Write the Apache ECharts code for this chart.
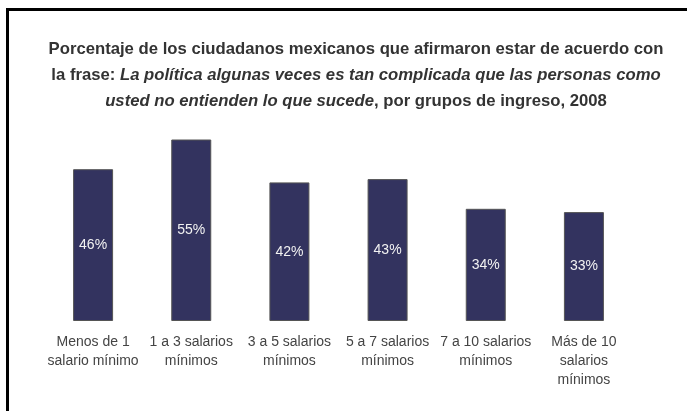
<!DOCTYPE html>
<html>
<head>
<meta charset="utf-8">
<script src="https://cdn.jsdelivr.net/npm/echarts@6/dist/echarts.min.js"></script>
<style>
html, body { margin: 0; padding: 0; background: #fff; }
#chart { width: 687px; height: 411px; }
</style>
</head>
<body>
<div id="chart"></div>
<script>
// grupos de ingreso
var categorias = [
    'Menos de 1\nsalario mínimo',
    '1 a 3 salarios\nmínimos',
    '3 a 5 salarios\nmínimos',
    '5 a 7 salarios\nmínimos',
    '7 a 10 salarios\nmínimos',
    'Más de 10\nsalarios\nmínimos'
]
// porcentaje de acuerdo
var valores = [46, 55, 42, 43, 34, 33]

var chart = echarts.init(document.getElementById('chart'), null, {renderer: 'canvas'})

var titulo = '{b|Porcentaje de los ciudadanos mexicanos que afirmaron estar de acuerdo con}\n' +
    '{b|la frase: }{bi|La política algunas veces es tan complicada que las personas como}\n' +
    '{bi|usted no entienden lo que sucede}{b|, por grupos de ingreso, 2008}'

var fuente = 'Liberation Sans, Arial, sans-serif'

var option = {
    backgroundColor: '#fff',
    animation: false,
    title: {
        text: titulo,
        left: 351,
        top: 31,
        textAlign: 'center',
        textStyle: {
            rich: {
                b: {fontFamily: fuente, fontSize: 16.7, fontWeight: 'bold', color: '#333', lineHeight: 26},
                bi: {fontFamily: fuente, fontSize: 16.7, fontWeight: 'bold', fontStyle: 'italic', color: '#333', lineHeight: 26}
            }
        }
    },
    grid: {
        left: 44,
        right: 54,
        top: 123,
        bottom: 90,
        containLabel: false
    },
    xAxis: {
        type: 'category',
        data: categorias,
        axisLine: {show: false},
        axisTick: {show: false},
        axisLabel: {
            interval: 0,
            margin: 12,
            fontFamily: fuente,
            fontSize: 14,
            lineHeight: 19,
            color: '#444'
        }
    },
    yAxis: {
        type: 'value',
        min: 0,
        max: 60,
        show: false,
        splitLine: {show: false}
    },
    series: [
        {
            type: 'bar',
            data: valores,
            barWidth: 40,
            itemStyle: {
                color: '#33335f',
                borderColor: '#555',
                borderWidth: 1
            },
            label: {
                show: true,
                position: 'inside',
                formatter: '{c}%',
                fontFamily: fuente,
                fontSize: 14,
                color: '#f2f2f2'
            }
        }
    ],
    graphic: [
        // marco superior e izquierdo
        {type: 'rect', shape: {x: 6, y: 8, width: 681, height: 3}, style: {fill: '#000'}},
        {type: 'rect', shape: {x: 6, y: 8, width: 3, height: 403}, style: {fill: '#000'}}
    ]
}
chart.setOption(option)
</script>
</body>
</html>
